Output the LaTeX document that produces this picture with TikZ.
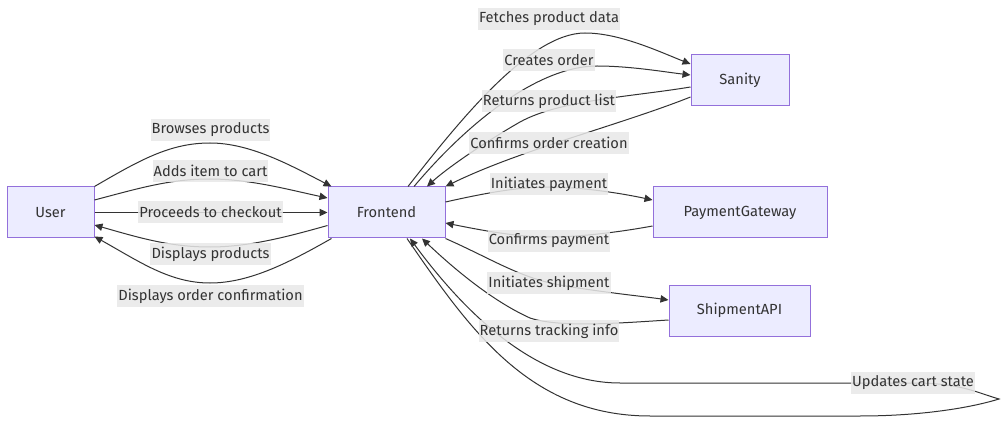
\documentclass[tikz,border=0pt]{standalone}
\usepackage{fontspec}
\setmainfont{Fira Sans}
\usetikzlibrary{arrows.meta,calc}
\definecolor{boxfill}{HTML}{ECECFF}
\definecolor{boxline}{HTML}{9370DB}
\definecolor{ink}{HTML}{333333}
\definecolor{lblbg}{HTML}{E8E8E8}
\begin{document}
\begin{tikzpicture}[x=0.75pt,y=-0.75pt,
  box/.style={draw=boxline,fill=boxfill,line width=0.75pt,minimum height=38.25pt,inner sep=0pt,text=ink,font=\fontsize{11pt}{13pt}\selectfont},
  lbl/.style={fill=lblbg,fill opacity=0.85,text opacity=1,text=ink,inner xsep=0.8pt,inner ysep=0pt,minimum height=16.5pt,font=\fontsize{11pt}{13pt}\selectfont},
  conn/.style={draw=ink,line width=0.75pt},
  arr/.style={conn,-{Triangle[length=6pt,width=5.5pt]}}]
\fill[white] (0,0) rectangle (1007,424);
\useasboundingbox (0,0) rectangle (1007,424);
% nodes
\node[box,minimum width=65.25pt] (user) at (50.5,212.5) {User};
\node[box,minimum width=87.75pt] (frontend) at (386.5,212.5) {Frontend};
\node[box,minimum width=73.5pt] (sanity) at (740,80.5) {Sanity};
\node[box,minimum width=130.5pt] (pay) at (740,212.5) {PaymentGateway};
\node[box,minimum width=105.75pt] (ship) at (739.5,310.5) {ShipmentAPI};
\coordinate (looptip) at (999,399);
% user <-> frontend
\draw[arr] (user.north east) .. controls (140,160) and (170,143) .. (210,143) .. controls (250,143) and (290,165) .. ($(frontend.north west)+(4,0)$);
\draw[arr] ($(user.east)+(0,-12.5)$) .. controls (140,188) and (170,179) .. (210,179) .. controls (250,179) and (290,190) .. ($(frontend.west)+(0,-14.5)$);
\draw[arr] (user.east) -- (frontend.west);
\draw[arr] ($(frontend.west)+(0,13)$) .. controls (290,236) and (250,247) .. (210,247) .. controls (170,247) and (140,238) .. ($(user.east)+(0,12.5)$);
\draw[arr] ($(frontend.south west)+(4,0)$) .. controls (290,262) and (250,283) .. (210,283) .. controls (170,283) and (140,262) .. ($(user.east)+(0,24)$);
% frontend <-> sanity
\draw[arr] ($(frontend.north)+(21.5,0)$) .. controls (460,120) and (530,33) .. (585,33) .. controls (620,33) and (660,52) .. ($(sanity.west)+(0,-16.5)$);
\draw[arr] ($(frontend.north)+(27.5,0)$) .. controls (470,120) and (540,66) .. (597,66) .. controls (630,66) and (665,72) .. ($(sanity.west)+(0,-5.5)$);
\draw[arr] ($(sanity.west)+(0,6.5)$) .. controls (630,97) and (560,100) .. (520,122) .. controls (480,145) and (445,170) .. ($(frontend.north)+(40.5,0)$);
\draw[arr] ($(sanity.west)+(0,16.5)$) .. controls (620,125) and (520,150) .. (frontend.north east);
% frontend <-> payment
\draw[arr] ($(frontend.east)+(0,-10.5)$) .. controls (490,192) and (520,187) .. (549,187) .. controls (580,187) and (620,193) .. ($(pay.west)+(0,-12.5)$);
\draw[arr] ($(pay.west)+(0,13.5)$) .. controls (620,232) and (580,237) .. (549,237) .. controls (520,237) and (490,232) .. ($(frontend.east)+(0,10.5)$);
% frontend <-> shipment
\draw[arr] (frontend.south east) .. controls (490,258) and (520,278) .. (560,285) .. controls (600,292) and (640,296) .. ($(ship.west)+(0,-10.5)$);
\draw[arr] ($(ship.west)+(0,9.5)$) .. controls (620,323) and (560,328) .. (530,318) .. controls (490,300) and (450,265) .. ($(frontend.south)+(35.5,0)$);
% self loop
\draw[arr] ($(frontend.south)+(20.5,0)$) .. controls (470,330) and (530,416) .. (650,416) -- (860,416) .. controls (920,416) and (970,408) .. (looptip) .. controls (975,392) and (960,383) .. (913,383) -- (620,383) .. controls (540,383) and (470,320) .. ($(frontend.south)+(23.5,0)$);
% labels
\node[lbl] (l1) at (210.5,130) {Browses products};
\node[lbl] (l2) at (210.5,171) {Adds item to cart};
\node[lbl] (l3) at (210.5,212) {Proceeds to checkout};
\node[lbl] (l4) at (210.5,254) {Displays products};
\node[lbl] (l5) at (210.5,296) {Displays order confirmation};
\node[lbl] (l6) at (549,19) {Fetches product data};
\node[lbl] (l7) at (549,60) {Creates order};
\node[lbl] (l8) at (549,101) {Returns product list};
\node[lbl] (l9) at (549,143) {Confirms order creation};
\node[lbl] (l10) at (549,184) {Initiates payment};
\node[lbl] (l11) at (549,241) {Confirms payment};
\node[lbl] (l12) at (549,283) {Initiates shipment};
\node[lbl] (l13) at (549,331) {Returns tracking info};
\node[lbl] (l14) at (913,383) {Updates cart state};
\end{tikzpicture}
\end{document}
